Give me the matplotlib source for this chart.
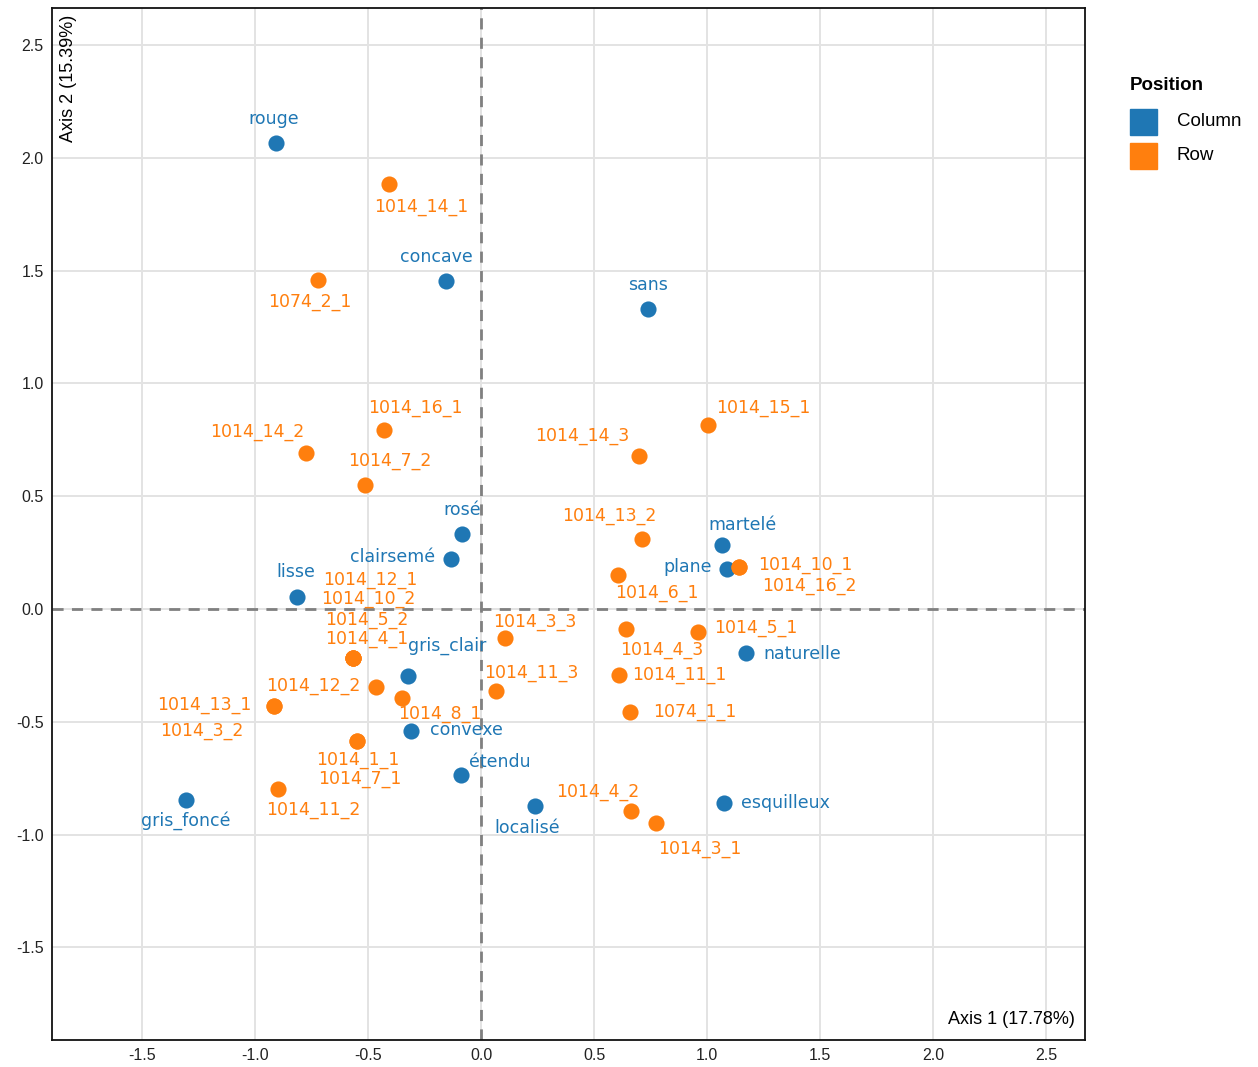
import numpy as np
import matplotlib.pyplot as plt
from matplotlib.patches import Rectangle

# column categories (blue)
col_names = ['rouge', 'concave', 'sans', 'rosé', 'clairsemé', 'martelé', 'plane',
             'lisse', 'naturelle', 'gris_clair', 'convexe', 'étendu', 'localisé',
             'esquilleux', 'gris_foncé']
col_x = [-0.907, -0.155, 0.739, -0.084, -0.133, 1.066, 1.088,
         -0.814, 1.173, -0.323, -0.310, -0.088, 0.239, 1.075, -1.305]
col_y = [2.067, 1.455, 1.330, 0.333, 0.222, 0.284, 0.177,
         0.053, -0.195, -0.297, -0.541, -0.736, -0.874, -0.860, -0.847]

# row categories (orange)
row_names = ['1014_14_1', '1074_2_1', '1014_16_1', '1014_14_2', '1014_7_2',
             '1014_15_1', '1014_14_3', '1014_13_2', '1014_6_1', '1014_10_1',
             '1014_16_2', '1014_12_1', '1014_10_2', '1014_5_2', '1014_4_1',
             '1014_3_3', '1014_4_3', '1014_5_1', '1014_11_3', '1014_11_1',
             '1074_1_1', '1014_12_2', '1014_8_1', '1014_13_1', '1014_3_2',
             '1014_1_1', '1014_7_1', '1014_11_2', '1014_4_2', '1014_3_1']
row_x = [-0.407, -0.721, -0.429, -0.774, -0.513,
         1.004, 0.699, 0.712, 0.606, 1.142,
         1.142, -0.566, -0.566, -0.566, -0.566,
         0.106, 0.642, 0.960, 0.066, 0.611,
         0.659, -0.465, -0.350, -0.916, -0.916,
         -0.549, -0.549, -0.898, 0.664, 0.774]
row_y = [1.885, 1.459, 0.794, 0.692, 0.550,
         0.816, 0.678, 0.310, 0.151, 0.186,
         0.186, -0.217, -0.217, -0.217, -0.217,
         -0.129, -0.089, -0.102, -0.364, -0.293,
         -0.457, -0.346, -0.395, -0.430, -0.430,
         -0.585, -0.585, -0.798, -0.896, -0.949]

# label offsets in pixels (dx right, dy down) and alignment
col_off = {'rouge': (-2, -24, 'center'), 'concave': (-10, -24, 'center'),
           'sans': (0, -24, 'center'), 'rosé': (0, -24, 'center'),
           'clairsemé': (-16, -2, 'right'), 'martelé': (21, -20, 'center'),
           'plane': (-15, -2, 'right'), 'lisse': (-1, -25, 'center'),
           'naturelle': (17, 1, 'left'), 'gris_clair': (39, -30, 'center'),
           'convexe': (19, -1, 'left'), 'étendu': (39, -13, 'center'),
           'localisé': (-8, 22, 'center'), 'esquilleux': (17, 0, 'left'),
           'gris_foncé': (0, 21, 'center')}
row_off = {'1014_14_1': (32, 23), '1074_2_1': (-8, 22), '1014_16_1': (31, -22),
           '1014_14_2': (-49, -21), '1014_7_2': (25, -24), '1014_15_1': (55, -17),
           '1014_14_3': (-57, -20), '1014_13_2': (-33, -23), '1014_6_1': (39, 18),
           '1014_10_1': (66, -2), '1014_16_2': (70, 19), '1014_12_1': (17, -78),
           '1014_10_2': (15, -59), '1014_5_2': (14, -38), '1014_4_1': (14, -19),
           '1014_3_3': (30, -16), '1014_4_3': (36, 21), '1014_5_1': (58, -4),
           '1014_11_3': (35, -18), '1014_11_1': (60, 0), '1074_1_1': (65, 0),
           '1014_12_2': (-63, -1), '1014_8_1': (38, 16), '1014_13_1': (-70, -1),
           '1014_3_2': (-72, 25), '1014_1_1': (1, 19), '1014_7_1': (3, 38),
           '1014_11_2': (35, 21), '1014_4_2': (-33, -19), '1014_3_1': (44, 26)}

blue = '#1f77b4'
orange = '#ff7f0e'
px = 72 / 100  # pixels -> points
lbl_size = 12.5

fig = plt.figure(figsize=(12.58, 10.67), dpi=100)
ax = fig.add_axes([52 / 1258, 27 / 1067, 1033 / 1258, 1032 / 1067])

ticks = np.arange(-1.5, 2.6, 0.5)
ax.set_xlim(-1.898, 2.672)
ax.set_ylim(-1.911, 2.665)
ax.set_xticks(ticks)
ax.set_yticks(ticks)
ax.set_xticklabels(['%.1f' % v for v in ticks])
ax.set_yticklabels(['%.1f' % v for v in ticks])
ax.tick_params(length=0, labelsize=11.5, pad=6, labelcolor='#222222')
for lab in ax.get_xticklabels() + ax.get_yticklabels():
    lab.set_family('Liberation Sans')
ax.grid(True, color='#e3e3e3', linewidth=1.4)
ax.set_axisbelow(True)
for sp in ax.spines.values():
    sp.set_linewidth(1.3)
    sp.set_color('#111111')

ax.axhline(0, color='#808080', linestyle=(0, (4, 3)), linewidth=2, zorder=1)
ax.axvline(0, color='#808080', linestyle=(0, (4, 3)), linewidth=2, zorder=1)

ax.scatter(col_x, col_y, s=135, color=blue, zorder=3, linewidths=0)
ax.scatter(row_x, row_y, s=135, color=orange, zorder=3, linewidths=0)

for name, x, y in zip(col_names, col_x, col_y):
    dx, dy, ha = col_off[name]
    ax.annotate(name, (x, y), xytext=(dx * px, -dy * px), textcoords='offset points',
                ha=ha, va='center', color=blue, fontsize=lbl_size, zorder=4)
for name, x, y in zip(row_names, row_x, row_y):
    dx, dy = row_off[name]
    ax.annotate(name, (x, y), xytext=(dx * px, -dy * px), textcoords='offset points',
                ha='center', va='center', color=orange, fontsize=lbl_size, zorder=4)

# axis titles drawn inside the panel
ax.text(0.016, 0.993, 'Axis 2 (15.39%)', transform=ax.transAxes, rotation=90,
        ha='center', va='top', fontsize=13, family='Liberation Sans')
ax.text(0.99, 0.012, 'Axis 1 (17.78%)', transform=ax.transAxes,
        ha='right', va='bottom', fontsize=13, family='Liberation Sans')

# legend
fig.text(1130 / 1258, 1 - 86 / 1067, 'Position', fontsize=13.5, fontweight='bold',
         ha='left', va='center', family='Liberation Sans')
for i, (lab, c) in enumerate([('Column', blue), ('Row', orange)]):
    yc = 122 + i * 34
    fig.patches.append(Rectangle((1130 / 1258, 1 - (yc + 13) / 1067), 27 / 1258, 26 / 1067,
                                 transform=fig.transFigure, color=c))
    fig.text(1177 / 1258, 1 - yc / 1067, lab, fontsize=13.5, ha='left', va='center',
             family='Liberation Sans')

fig.savefig('out.png', dpi=100)
